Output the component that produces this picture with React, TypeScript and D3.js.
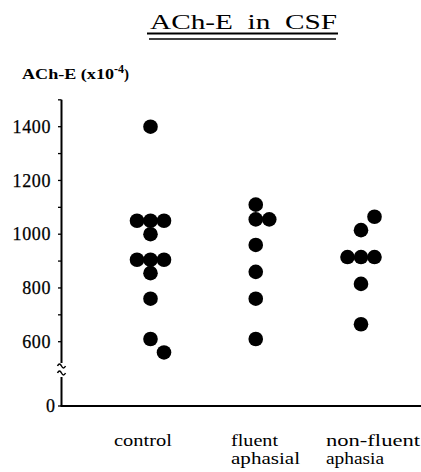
import React from "react";
import * as d3 from "d3";

const categories = ["control", "fluent", "non-fluent"];
const categoryLabelLines = [["control"], ["fluent", "aphasial"], ["non-fluent", "aphasia"]];

const controlValues = [1400, 1050, 1050, 1050, 1000, 905, 905, 905, 855, 760, 610, 560];
const controlColumns = [0, -1, 0, 1, 0, -1, 0, 1, 0, 0, 0, 1];
const fluentValues = [1110, 1055, 1055, 960, 860, 760, 610];
const fluentColumns = [0, 0, 1, 0, 0, 0, 0];
const nonFluentValues = [1065, 1015, 915, 915, 915, 815, 665];
const nonFluentColumns = [1, 0, -1, 0, 1, 0, 0];

const tickLabels = [600, 800, 1000, 1200, 1400];
const minorTicks = [600, 700, 800, 900, 1000, 1100, 1200, 1300, 1400, 1500];

const titleText = "ACh-E  in  CSF";

export default function App() {
  const W = 421, H = 472;
  const y = d3.scaleLinear().domain([600, 1400]).range([341.7, 126.7]);
  const yZero = 406;
  const axisX = 61.5;
  const x = d3.scalePoint<string>().domain(categories).range([150.5, 361]);
  const col = d3.scaleLinear().domain([-1, 1]).range([-13.5, 13.5]);
  const r = 7.3;

  const groups = [
    { cat: categories[0], values: controlValues, cols: controlColumns },
    { cat: categories[1], values: fluentValues, cols: fluentColumns },
    { cat: categories[2], values: nonFluentValues, cols: nonFluentColumns },
  ];

  const serif = { fontFamily: '"Liberation Serif", "Times New Roman", serif' };
  const breakTop = 363;
  const breakBot = 377;

  const labelLengths = [[58], [47, 69], [94, 58]];
  const labelX = [114, 231, 326];

  return (
    <svg width={W} height={H} style={{ position: "absolute", left: 0, top: 0, background: "#fff" }}>
      <rect width={W} height={H} fill="#fff" />
      {/* Title */}
      <text x={150} y={28.5} style={{ ...serif, whiteSpace: "pre" }} fontSize={22} textLength={187} lengthAdjust="spacingAndGlyphs" fill="#000">
        {titleText}
      </text>
      <line x1={147} x2={338} y1={33.5} y2={33.5} stroke="#000" strokeWidth={1.8} />
      <line x1={149} x2={336} y1={39} y2={39} stroke="#000" strokeWidth={1.4} />

      {/* Y label */}
      <text x={22} y={78.5} style={serif} fontSize={15} fontWeight="bold" fill="#000">
        <tspan textLength={92} lengthAdjust="spacingAndGlyphs">ACh-E (x10</tspan>
        <tspan dy={-6} fontSize={12}>-4</tspan>
        <tspan dy={6}>)</tspan>
      </text>

      {/* Y axis */}
      <line x1={axisX} x2={axisX} y1={y(1500)} y2={breakTop} stroke="#000" strokeWidth={2} />
      <line x1={axisX} x2={axisX} y1={breakBot} y2={yZero} stroke="#000" strokeWidth={2} />
      {/* break marks */}
      <path d={`M${axisX - 4},${breakTop + 3} q2,-4 4,0 t4,0`} fill="none" stroke="#000" strokeWidth={1.5} />
      <path d={`M${axisX - 4},${breakTop + 10} q2,-4 4,0 t4,0`} fill="none" stroke="#000" strokeWidth={1.5} />
      {minorTicks.map((t) => (
        <line key={t} x1={axisX - 3.5} x2={axisX} y1={y(t)} y2={y(t)} stroke="#000" strokeWidth={1.3} />
      ))}
      <line x1={axisX - 3.5} x2={axisX} y1={yZero} y2={yZero} stroke="#000" strokeWidth={1.3} />
      {tickLabels.map((t) => (
        <text key={t} x={51} y={y(t)} dy="0.34em" textAnchor="end" style={serif} fontSize={18} letterSpacing={0.6} stroke="#000" strokeWidth={0.25} fill="#000">
          {t}
        </text>
      ))}
      <text x={55} y={yZero} dy="0.34em" textAnchor="end" style={serif} fontSize={18} stroke="#000" strokeWidth={0.25} fill="#000">0</text>

      {/* X axis */}
      <line x1={axisX - 1} x2={W} y1={yZero} y2={yZero} stroke="#000" strokeWidth={1.8} />

      {/* Dots */}
      {groups.map((g) =>
        g.values.map((v, i) => (
          <circle key={g.cat + i} cx={(x(g.cat) as number) + col(g.cols[i])} cy={y(v)} r={r} fill="#000" />
        ))
      )}

      {/* Category labels */}
      {categoryLabelLines.map((lines, ci) =>
        lines.map((ln, li) => (
          <text key={ci + "-" + li} x={labelX[ci]} y={446 + li * 18} style={serif} fontSize={16} textLength={labelLengths[ci][li]} lengthAdjust="spacingAndGlyphs" fill="#000">
            {ln}
          </text>
        ))
      )}
    </svg>
  );
}
